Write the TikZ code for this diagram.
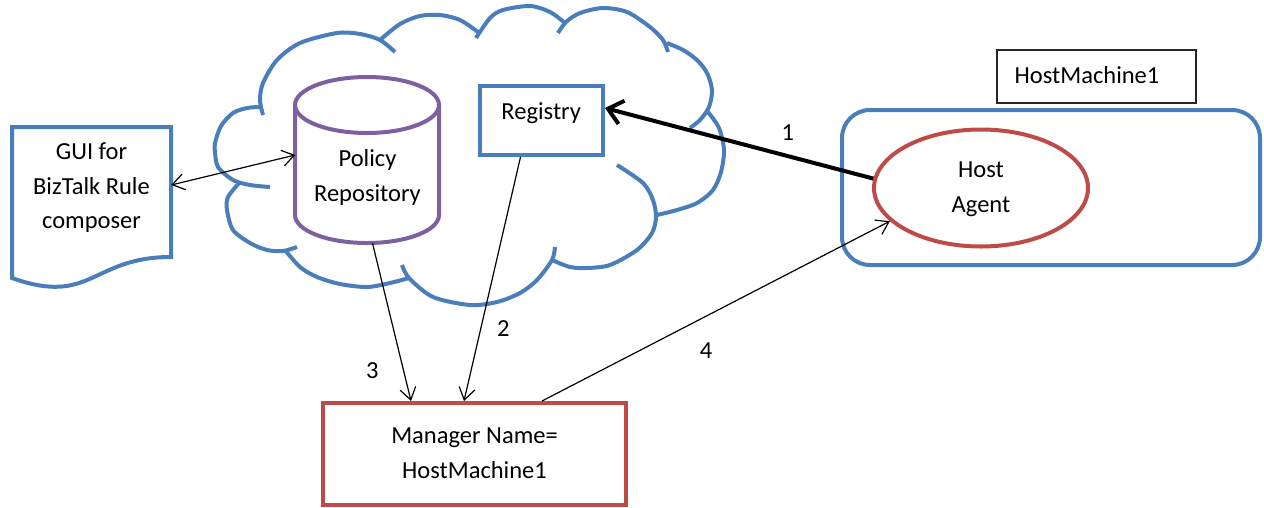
\documentclass[tikz,border=0pt]{standalone}
\usepackage{fontspec}
\setmainfont{Carlito}
\usetikzlibrary{arrows.meta,shapes.geometric}
\definecolor{cblue}{RGB}{74,126,187}
\definecolor{cred}{RGB}{190,75,72}
\definecolor{cpurple}{RGB}{125,96,160}
\begin{document}
\begin{tikzpicture}[x=1pt,y=-1pt,
  txt/.style={font=\fontsize{24.5}{34.5}\selectfont, align=center, inner sep=0pt},
  outl/.style={line width=4pt},
  thinarrow/.style={line width=1.2pt, -{Straight Barb[length=12pt,width=16pt]}},
  thickarrow/.style={line width=4pt, -{Straight Barb[length=14pt,width=24pt]}},
  numlabel/.style={font=\fontsize{24.5}{34.5}\selectfont, inner sep=0pt}
]
\useasboundingbox (0,0) rectangle (1264,507);

% ---- cloud ----
\begin{scope}[draw=cblue, outl]
\draw plot[smooth] coordinates {(395,52) (380,40) (360,34) (337,33) (300,43) (277,60) (263,83) (260,100) (263,115)};
\draw plot[smooth] coordinates {(260,107) (247,108) (233,113) (221,126) (215,143) (215,152) (218,167) (233,180) (250,185) (270,187)};
\draw plot[smooth] coordinates {(240,182) (228,197) (227,210) (233,230) (250,243) (267,250) (283,251) (297,247)};
\draw plot[smooth] coordinates {(285,250) (300,267) (317,277) (340,284) (367,287) (390,283) (409,278)};
\draw plot[smooth] coordinates {(402,265) (409,278) (433,297) (470,305) (497,302) (520,293) (537,280) (552,260) (555,247)};
\draw plot[smooth] coordinates {(552,260) (570,267) (587,268) (610,265) (637,250) (652,233) (656,217) (653,200) (643,183) (617,165)};
\draw plot[smooth] coordinates {(657,215) (677,210) (697,203) (713,190) (721,172) (724,150) (719,128) (708,112)};
\draw plot[smooth] coordinates {(667,43) (683,50) (697,60) (707,73) (712,90) (709,107) (700,120) (690,128)};
\draw plot[smooth] coordinates {(558,33) (566,22) (580,13) (603,8) (627,12) (650,27) (663,40) (668,52)};
\draw plot[smooth] coordinates {(476,38) (490,18) (503,10) (530,6) (550,12) (565,23)};
\draw plot[smooth] coordinates {(380,40) (400,24) (420,16) (440,15) (460,20) (478,32)};
\end{scope}

% ---- GUI document ----
\draw[cblue, outl] (12,127) -- (171,127) -- (171,257) .. controls (91.5,257) and (91.5,306.4) .. (12,278) -- cycle;
\node[txt, minimum width=159pt] (gui) at (91.5,187.5) {\strut GUI for\\\strut BizTalk Rule\\\strut composer};

% ---- Policy repository cylinder ----
\draw[cpurple, outl, fill=white] (295,105) -- (295,215) arc[start angle=180, end angle=0, x radius=72, y radius=28]
  -- (439,105) arc[start angle=0, end angle=-180, x radius=72, y radius=28] -- cycle;
\draw[cpurple, outl] (295,105) arc[start angle=180, end angle=0, x radius=72, y radius=28];
\node[txt, minimum width=144pt, minimum height=131.4pt] (policy) at (367.5,177.3) {\strut Policy\\\strut Repository};

% ---- Registry ----
\node[draw=cblue, outl, minimum width=123pt, minimum height=69pt, inner sep=0pt] (registry) at (541.5,120.5) {};
\node[txt] (registrytext) at (541.2,112.4) {\strut Registry};

% ---- Host machine ----
\node[draw=black!85, line width=1.2pt, minimum width=199pt, minimum height=53pt, inner sep=0pt] (hmbox) at (1096.5,76.5) {};
\node[txt] (hmtext) at (1087,76.2) {\strut HostMachine1};
\node[draw=cblue, outl, rounded corners=28pt, minimum width=418pt, minimum height=155pt, inner sep=0pt] (hostmachine) at (1051,187.5) {};
\node[ellipse, draw=cred, outl, txt, minimum width=214pt, minimum height=117pt] (agent) at (981,188) {\strut Host\\\strut Agent};

% ---- Manager ----
\node[draw=cred, outl, txt, minimum width=303pt, minimum height=102pt] (manager) at (474.5,454) {\strut Manager Name=\\\strut HostMachine1};

% ---- connectors ----
\draw[thinarrow, {Straight Barb[length=12pt,width=16pt]}-{Straight Barb[length=12pt,width=16pt]}]
  ([yshift=2.5pt]gui.east) -- ([yshift=22.3pt]policy.west);
\draw[thickarrow] (agent.175) -- ([yshift=12.5pt]registry.east);
\draw[thinarrow] ([xshift=-21pt]registry.south) -- ([xshift=-10.5pt]manager.north);
\draw[thinarrow] ([xshift=5pt]policy.south) -- ([xshift=-63.5pt]manager.north);
\draw[thinarrow] ([xshift=67.5pt]manager.north) -- (agent.200);

% ---- labels ----
\node[numlabel] (l1) at (787.7,133.1) {\strut 1};
\node[numlabel] (l2) at (503.3,329.1) {\strut 2};
\node[numlabel] (l3) at (372.3,371.4) {\strut 3};
\node[numlabel] (l4) at (706,352) {\strut 4};
\end{tikzpicture}
\end{document}
